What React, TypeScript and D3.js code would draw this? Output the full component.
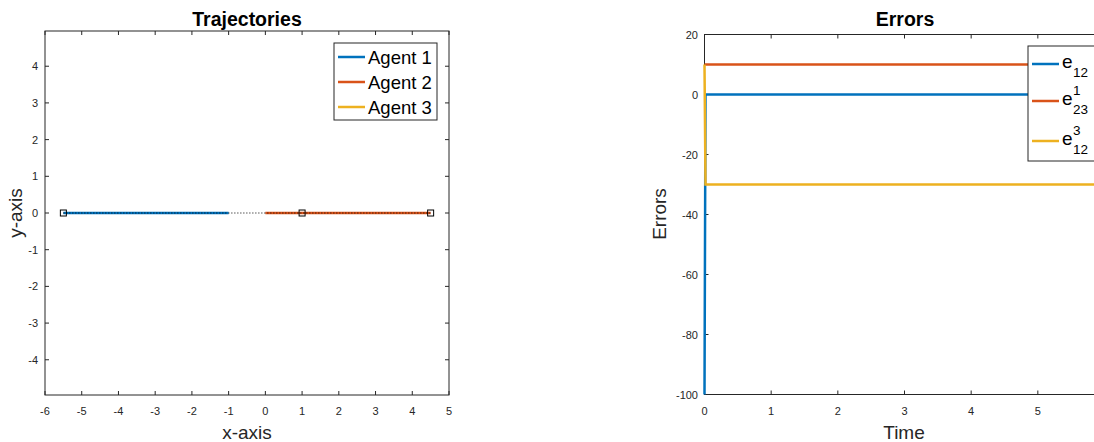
import React from 'react';
import * as d3 from 'd3';

// trajectories (y = 0 for every agent)
const agent1X = [-5.5, -1];
const agent2X = [0, 4.5];
const agent3X = [4.5, 4.5];
const formationX = [-5.5, 4.5];
const markerX = [-5.5, 1, 4.5];
const agentNames = ['Agent 1', 'Agent 2', 'Agent 3'];

// errors over time
const time = [0, 0.015, 6];
const e12 = [-100, 0, 0];
const e23 = [10, 10, 10];
const e12b = [10, -30, -30];

const trajXTicks = [-6, -5, -4, -3, -2, -1, 0, 1, 2, 3, 4, 5];
const trajYTicks = [-4, -3, -2, -1, 0, 1, 2, 3, 4];
const timeTicks = [0, 1, 2, 3, 4, 5];
const errTicks = [-100, -80, -60, -40, -20, 0, 20];

const colors = ['#0072BD', '#D95319', '#EDB120'];
const axisColor = '#262626';
const font = 'Liberation Sans, Arial, Helvetica, sans-serif';

const Box = ({ x0, x1, y0, y1, xs, ys, xScale, yScale, tick }: any) => (
  <g stroke={axisColor} strokeWidth={1} fill="none">
    <rect x={x0} y={y0} width={x1 - x0} height={y1 - y0} />
    {xs.map((v: number) => (
      <g key={'x' + v}>
        <line x1={xScale(v)} x2={xScale(v)} y1={y1} y2={y1 - tick} />
        <line x1={xScale(v)} x2={xScale(v)} y1={y0} y2={y0 + tick} />
      </g>
    ))}
    {ys.map((v: number) => (
      <g key={'y' + v}>
        <line x1={x0} x2={x0 + tick} y1={yScale(v)} y2={yScale(v)} />
        <line x1={x1} x2={x1 - tick} y1={yScale(v)} y2={yScale(v)} />
      </g>
    ))}
  </g>
);

const Trajectories = () => {
  const x = d3.scaleLinear().domain([-6, 5]).range([45, 449]);
  const y = d3.scaleLinear().domain([-4.96, 4.96]).range([395, 31]);
  const line = d3.line<number>().x((d) => x(d)).y(() => y(0));
  const paths = [agent1X, agent2X, agent3X];
  return (
    <g fontFamily={font}>
      <Box x0={45} x1={449} y0={31} y1={395} xs={trajXTicks} ys={trajYTicks} xScale={x} yScale={y} tick={4} />
      {paths.map((p, i) => (
        <path key={i} d={line(p) || ''} stroke={colors[i]} strokeWidth={2.5} fill="none" />
      ))}
      <path d={line(formationX) || ''} stroke="#000" strokeWidth={1.2} strokeDasharray="1 2" fill="none" />
      {markerX.map((m) => (
        <rect key={m} x={x(m) - 3} y={y(0) - 3} width={6} height={6} fill="none" stroke="#000" strokeWidth={1} />
      ))}
      {trajXTicks.map((v) => (
        <text key={v} x={x(v)} y={415} fontSize={11} textAnchor="middle" fill={axisColor}>{v}</text>
      ))}
      {trajYTicks.map((v) => (
        <text key={v} x={38} y={y(v) + 4} fontSize={11} textAnchor="end" fill={axisColor}>{v}</text>
      ))}
      <text x={247} y={26} fontSize={19.5} fontWeight="bold" textAnchor="middle" fill="#000">Trajectories</text>
      <text x={247} y={439} fontSize={19} textAnchor="middle" fill={axisColor}>x-axis</text>
      <text transform="translate(22,213) rotate(-90)" fontSize={19} textAnchor="middle" fill={axisColor}>y-axis</text>
      <rect x={334} y={43} width={103} height={77} fill="#fff" stroke={axisColor} strokeWidth={1} />
      {agentNames.map((n, i) => (
        <g key={n}>
          <line x1={338} x2={365} y1={57 + i * 25} y2={57 + i * 25} stroke={colors[i]} strokeWidth={2.5} />
          <text x={368} y={57 + i * 25 + 6.5} fontSize={18.5} fill="#000">{n}</text>
        </g>
      ))}
    </g>
  );
};

const Errors = () => {
  const x = d3.scaleLinear().domain([0, 6]).range([704.5, 1104.5]);
  const y = d3.scaleLinear().domain([-100, 20]).range([394.5, 34.5]);
  const line = d3.line<number>().x((_, i) => x(time[i])).y((d) => y(d));
  const series = [e12, e23, e12b];
  const ly = [64, 101, 141];
  return (
    <g fontFamily={font}>
      <Box x0={704.5} x1={1104.5} y0={34.5} y1={394.5} xs={timeTicks} ys={errTicks} xScale={x} yScale={y} tick={4} />
      {series.map((s, i) => (
        <path key={i} d={line(s) || ''} stroke={colors[i]} strokeWidth={2.5} fill="none" />
      ))}
      {timeTicks.map((v) => (
        <text key={v} x={x(v)} y={415} fontSize={11} textAnchor="middle" fill={axisColor}>{v}</text>
      ))}
      {errTicks.map((v) => (
        <text key={v} x={698} y={y(v) + 4} fontSize={11} textAnchor="end" fill={axisColor}>{v}</text>
      ))}
      <text x={905} y={26} fontSize={19.5} fontWeight="bold" textAnchor="middle" fill="#000">Errors</text>
      <text x={904} y={439} fontSize={19} textAnchor="middle" fill={axisColor}>Time</text>
      <text transform="translate(666,214) rotate(-90)" fontSize={19} textAnchor="middle" fill={axisColor}>Errors</text>
      <rect x={1028} y={46} width={90} height={115} fill="#fff" stroke={axisColor} strokeWidth={1} />
      {ly.map((yy, i) => (
        <line key={i} x1={1032} x2={1059} y1={yy} y2={yy} stroke={colors[i]} strokeWidth={2.5} />
      ))}
      <text x={1062} y={ly[0] + 4} fontSize={19} fill="#000">e</text>
      <text x={1073} y={ly[0] + 13} fontSize={13.5} fill="#000">12</text>
      <text x={1062} y={ly[1] + 4} fontSize={19} fill="#000">e</text>
      <text x={1073} y={ly[1] - 6} fontSize={13.5} fill="#000">1</text>
      <text x={1073} y={ly[1] + 13} fontSize={13.5} fill="#000">23</text>
      <text x={1062} y={ly[2] + 4} fontSize={19} fill="#000">e</text>
      <text x={1073} y={ly[2] - 6} fontSize={13.5} fill="#000">3</text>
      <text x={1073} y={ly[2] + 13} fontSize={13.5} fill="#000">12</text>
    </g>
  );
};

export default function App() {
  return (
    <svg width={1094} height={442} style={{ position: 'absolute', left: 0, top: 0 }}>
      <rect width={1094} height={442} fill="#fff" />
      <Trajectories />
      <Errors />
    </svg>
  );
}
